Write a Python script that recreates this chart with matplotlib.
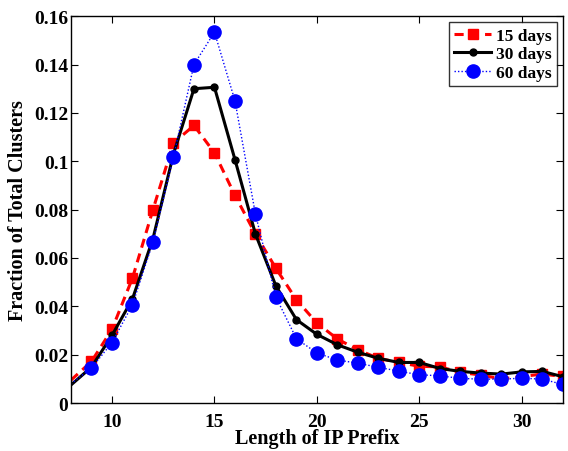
import matplotlib
matplotlib.use("Agg")
import matplotlib.pyplot as plt
import numpy as np

prefix_len = list(range(8, 33))
days15 = [0.0095, 0.0172, 0.0305, 0.0517, 0.0800, 0.1076, 0.1148, 0.1035, 0.0859, 0.0699,
          0.0557, 0.0427, 0.0331, 0.0265, 0.0220, 0.0185, 0.0168, 0.0152, 0.0150, 0.0127,
          0.0116, 0.0100, 0.0110, 0.0120, 0.0110]
days30 = [0.0075, 0.0149, 0.0280, 0.0431, 0.0680, 0.1030, 0.1300, 0.1306, 0.1007, 0.0699,
          0.0484, 0.0345, 0.0284, 0.0241, 0.0210, 0.0185, 0.0168, 0.0168, 0.0143, 0.0131,
          0.0124, 0.0120, 0.0129, 0.0131, 0.0109]
days60 = [0.0080, 0.0145, 0.0250, 0.0407, 0.0666, 0.1018, 0.1400, 0.1534, 0.1250, 0.0781,
          0.0438, 0.0266, 0.0207, 0.0178, 0.0165, 0.0148, 0.0132, 0.0117, 0.0113, 0.0102,
          0.0099, 0.0099, 0.0103, 0.0099, 0.0077]
x_ticks = [10, 15, 20, 25, 30]
y_ticks = [0, 0.02, 0.04, 0.06, 0.08, 0.1, 0.12, 0.14, 0.16]
y_tick_labels = ["0", "0.02", "0.04", "0.06", "0.08", "0.1", "0.12", "0.14", "0.16"]

plt.rcParams['font.family'] = ['Liberation Serif', 'DejaVu Serif']
plt.rcParams['font.weight'] = 'bold'

fig = plt.figure(figsize=(5.68, 4.52), dpi=100)
ax = fig.add_axes([0.125, 0.106, 0.866, 0.856])

mk = list(range(1, len(prefix_len)))
ax.plot(prefix_len, days15, color='red', linestyle=(0, (3, 2)), linewidth=2.2,
        marker='s', markersize=7, markevery=mk, label='15 days')
ax.plot(prefix_len, days30, color='black', linestyle='-', linewidth=2.2,
        marker='o', markersize=5, markevery=mk, label='30 days')
ax.plot(prefix_len, days60, color='blue', linestyle=(0, (1, 1.5)), linewidth=1.0,
        marker='o', markersize=9.5, markevery=mk, label='60 days')

ax.set_xlim(8, 32)
ax.set_ylim(0, 0.16)
ax.set_xticks(x_ticks)
ax.set_xticklabels([str(t) for t in x_ticks])
ax.set_yticks(y_ticks)
ax.set_yticklabels(y_tick_labels)
ax.tick_params(direction='in', top=True, right=True, labelsize=14, length=5, width=0.8)
ax.tick_params(axis='y', pad=2)
ax.tick_params(axis='x', pad=7)
for lab in ax.get_xticklabels() + ax.get_yticklabels():
    lab.set_fontweight('bold')
for s in ax.spines.values():
    s.set_linewidth(1.0)

ax.set_xlabel('Length of IP Prefix', fontsize=14.5, fontweight='bold', labelpad=-1)
ax.set_ylabel('Fraction of Total Clusters', fontsize=14.5, fontweight='bold', labelpad=4)

leg = ax.legend(loc='upper right', fontsize=12.5, frameon=True, fancybox=False,
                edgecolor='black', handlelength=2.1, borderpad=0.3, labelspacing=0.15,
                handletextpad=0.3, borderaxespad=0.35)
leg.get_frame().set_linewidth(1.0)
for t in leg.get_texts():
    t.set_fontweight('bold')

fig.savefig('out.png', dpi=100)
